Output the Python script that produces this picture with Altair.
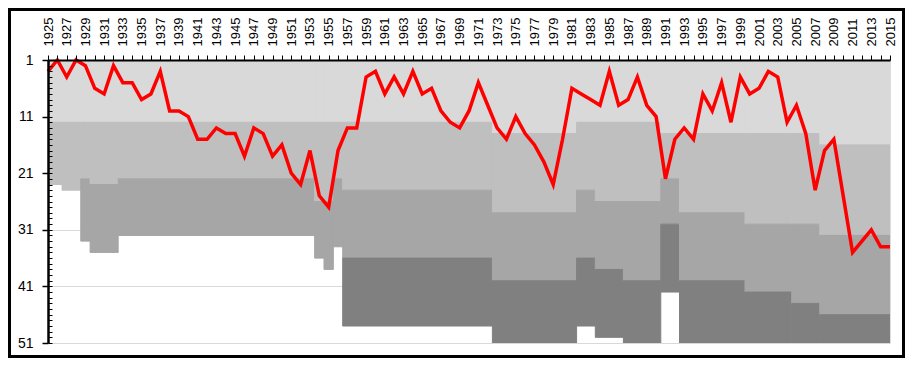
import altair as alt
import pandas as pd

# ---------------- data ----------------
years = list(range(1925, 2016))
positions = [
    3, 1, 4, 1, 2, 6, 7, 2, 5, 5,          # 1925-1934
    8, 7, 3, 10, 10, 11, 15, 15, 13, 14,   # 1935-1944
    14, 18, 13, 14, 18, 16, 21, 23, 17, 25,  # 1945-1954
    27, 17, 13, 13, 4, 3, 7, 4, 7, 3,      # 1955-1964
    7, 6, 10, 12, 13, 10, 5, 9, 13, 15,    # 1965-1974
    11, 14, 16, 19, 23, 15, 6, 7, 8, 9,    # 1975-1984
    3, 9, 8, 4, 9, 11, 22, 15, 13, 15,     # 1985-1994
    7, 10, 5, 12, 4, 7, 6, 3, 4, 12,       # 1995-2004
    9, 14, 24, 17, 15, 25, 35, 33, 31, 34,  # 2005-2014
    34,                                    # 2015
]
assert len(positions) == len(years)

# league structure (cumulative bottom of each division) per block of seasons
seg_start = [1925, 1927, 1929, 1930, 1933, 1954, 1955, 1956, 1957, 1973,
             1982, 1984, 1987, 1991, 1993, 2000, 2005, 2008]
seg_end = [1926, 1928, 1929, 1932, 1953, 1954, 1955, 1956, 1972, 1981,
           1983, 1986, 1990, 1992, 1999, 2004, 2007, 2015]
tier1_bottom = [12, 12, 12, 12, 12, 12, 12, 12, 12, 14, 12, 12, 12, 14, 14, 14, 14, 16]
tier2_bottom = [23, 24, 22, 23, 22, 26, 26, 22, 24, 28, 24, 26, 26, 22, 28, 30, 30, 32]
tier3_bottom = [23, 24, 33, 35, 32, 36, 38, 34, 36, 40, 36, 38, 40, 30, 40, 42, 44, 46]
tier4_bottom = [23, 24, 33, 35, 32, 36, 38, 34, 48, 51, 48, 50, 51, 42, 51, 51, 51, 51]

tier_names = ["Tier 1", "Tier 2", "Tier 3", "Tier 4"]
tier_colors = ["#d9d9d9", "#bfbfbf", "#a6a6a6", "#808080"]
y_major = [1, 11, 21, 31, 41, 51]

# ---------------- tables ----------------
rows = []
for i in range(len(seg_start)):
    bounds = [1, tier1_bottom[i], tier2_bottom[i], tier3_bottom[i], tier4_bottom[i]]
    for t in range(4):
        if bounds[t + 1] > bounds[t]:
            rows.append({
                "x0": seg_start[i] - 0.5,
                "x1": seg_end[i] + 0.5,
                "top": bounds[t],
                "bottom": bounds[t + 1],
                "tier": tier_names[t],
            })
bands_df = pd.DataFrame(rows)
pos_df = pd.DataFrame({"year": years, "pos": positions})

W, H = 842, 283
PAD = {"left": 40, "top": 52, "right": 15, "bottom": 15}

FONT = "Liberation Sans"

xscale = alt.Scale(domain=[1925, 2015], nice=False, zero=False)
yscale = alt.Scale(domain=[1, 51], reverse=True, nice=False, zero=False)
tier_scale = alt.Scale(domain=tier_names, range=tier_colors)

xaxis = alt.Axis(
    orient="top", values=years, title=None,
    labelExpr="datum.value % 2 == 1 ? datum.value : ''",
    labelAngle=-90, labelFontSize=13, labelFont=FONT, labelColor="#000000",
    labelPadding=9, tickSize=5, tickColor="#000000", tickWidth=1,
    domainColor="#000000", domainWidth=2, grid=False, zindex=2,
    labelOverlap=False, labelFlush=False,
)
y_grid_axis = alt.Axis(
    orient="left", values=y_major, title=None, labels=False, ticks=False,
    domain=False, grid=True, gridColor="#d9d9d9", gridWidth=1, zindex=0,
)
y_main_axis = alt.Axis(
    orient="left", values=y_major, title=None, labelFontSize=14,
    labelFont=FONT, labelColor="#000000", labelPadding=9,
    tickSize=6, tickColor="#000000", tickWidth=1.5,
    domainColor="#000000", domainWidth=2.5, grid=False, zindex=2,
)
y_minor_axis = alt.Axis(
    orient="left", values=list(range(1, 52)), title=None, labels=False,
    tickSize=4, tickColor="#000000", tickWidth=1, offset=-4,
    domain=False, grid=False, zindex=2,
)

bands = alt.Chart(bands_df).mark_rect(clip=True, strokeWidth=1).encode(
    x=alt.X("x0:Q", scale=xscale, axis=xaxis),
    x2="x1:Q",
    y=alt.Y("top:Q", scale=yscale, axis=y_grid_axis),
    y2="bottom:Q",
    color=alt.Color("tier:N", scale=tier_scale, legend=None),
    stroke=alt.Stroke("tier:N", scale=tier_scale, legend=None),
)

line = alt.Chart(pos_df).mark_line(color="#ff0000", strokeWidth=3.5).encode(
    x=alt.X("year:Q", scale=xscale, axis=xaxis),
    y=alt.Y("pos:Q", scale=yscale, axis=y_main_axis),
)

minor = alt.Chart(pos_df).mark_line(opacity=0).encode(
    x=alt.X("year:Q", scale=xscale, axis=xaxis),
    y=alt.Y("pos:Q", scale=yscale, axis=y_minor_axis),
)

frame = alt.Chart(pd.DataFrame({"f": [0]})).mark_rect(
    filled=False, stroke="#000000", strokeWidth=3
).encode(
    x=alt.value(-PAD["left"] + 1.5),
    x2=alt.value(W + PAD["right"] - 1.5),
    y=alt.value(-PAD["top"] + 1.5),
    y2=alt.value(H + PAD["bottom"] - 1.5),
)

chart = alt.layer(bands, minor, line, frame).resolve_axis(y="independent").properties(
    width=W, height=H,
    padding=PAD,
    autosize=alt.AutoSizeParams(type="none"),
).configure_view(stroke=None).configure(background="#ffffff")

chart.save("out.html", embed_options={"renderer": "svg", "actions": False})
